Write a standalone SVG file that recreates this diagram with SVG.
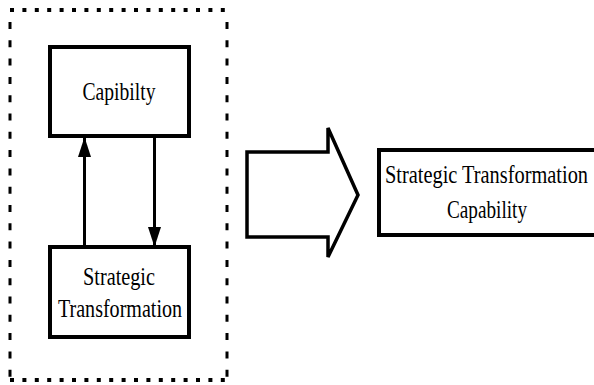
<svg xmlns="http://www.w3.org/2000/svg" width="594" height="385" viewBox="0 0 594 385">
<style>
.box{fill:#fff;stroke:#000;stroke-width:4}
.lbl{font-family:"Liberation Serif","Times New Roman",serif;font-size:26px;fill:#000;text-anchor:middle}
.con{stroke:#000;stroke-width:3;fill:none}
.dotH{stroke:#000;stroke-width:4;stroke-dasharray:4 8.4;fill:none}
.dotV{stroke:#000;stroke-width:3;stroke-dasharray:7 11.3;fill:none}
</style>
<defs>
<marker id="ah" viewBox="0 0 20 13" refX="20" refY="6.5" markerWidth="20" markerHeight="13" markerUnits="userSpaceOnUse" orient="auto">
<path d="M0,0 L20,6.5 L0,13 Z" fill="#000"/>
</marker>
</defs>
<g id="group-border">
<line class="dotH" x1="10" y1="10" x2="229" y2="10"/>
<line class="dotH" x1="10" y1="380" x2="229" y2="380"/>
<line class="dotV" x1="10" y1="22" x2="10" y2="378"/>
<line class="dotV" x1="227" y1="22" x2="227" y2="378"/>
</g>
<g id="node-capibilty">
<rect class="box" x="50" y="47" width="139" height="89"/>
<text class="lbl" x="119" y="100" textLength="73" lengthAdjust="spacingAndGlyphs">Capibilty</text>
</g>
<g id="node-strategic-transformation">
<rect class="box" x="50" y="247" width="139" height="90"/>
<text class="lbl" x="119" y="285" textLength="72" lengthAdjust="spacingAndGlyphs">Strategic</text>
<text class="lbl" x="120" y="317" textLength="124" lengthAdjust="spacingAndGlyphs">Transformation</text>
</g>
<g id="node-big-arrow">
<polygon points="247,152 328,152 328,128 358,195 328,257 328,237 247,237" fill="#fff" stroke="#000" stroke-width="3.5" stroke-linejoin="miter"/>
</g>
<g id="node-result">
<rect class="box" x="379" y="150" width="217" height="85"/>
<text class="lbl" x="486.5" y="183" textLength="203" lengthAdjust="spacingAndGlyphs">Strategic Transformation</text>
<text class="lbl" x="487" y="218" textLength="80" lengthAdjust="spacingAndGlyphs">Capability</text>
</g>
<g id="connectors">
<line class="con" x1="84.5" y1="247" x2="84.5" y2="137" marker-end="url(#ah)"/>
<line class="con" x1="154.5" y1="136" x2="154.5" y2="247" marker-end="url(#ah)"/>
</g>
</svg>
